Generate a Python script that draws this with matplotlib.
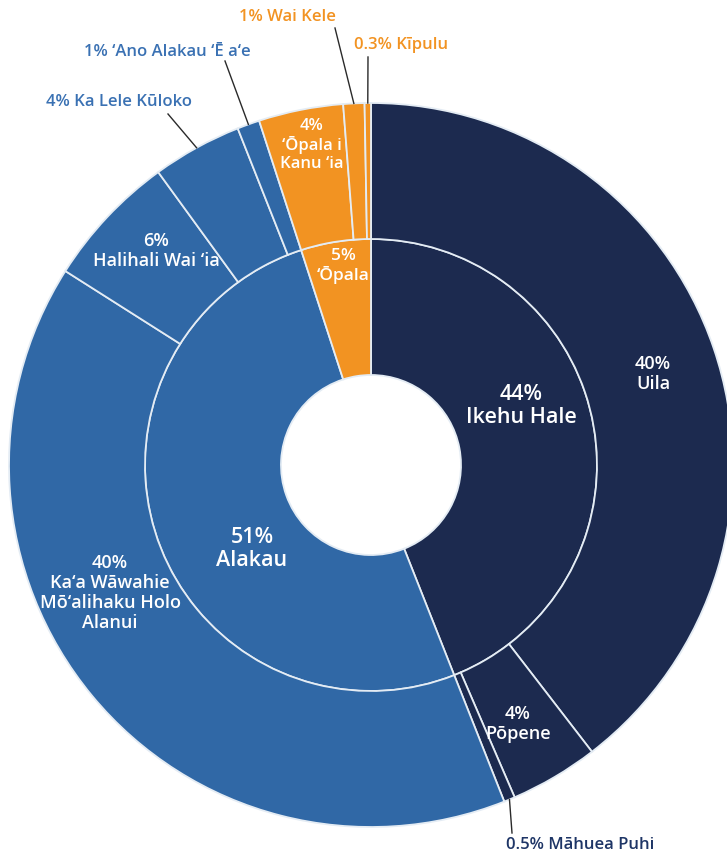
import numpy as np
import matplotlib.pyplot as plt

W, H = 727, 857

# inner ring
inner_names = ["Ikehu Hale", "Alakau", "‘Ōpala"]
inner_pct = [44, 51, 5]

# outer ring, grouped by parent
outer_names = ["Uila", "Pōpene", "Māhuea Puhi",
               "Ka‘a Wāwahie\nMō‘alihaku Holo\nAlanui", "Halihali Wai ‘ia", "Ka Lele Kūloko", "‘Ano Alakau ‘Ē a‘e",
               "‘Ōpala i\nKanu ‘ia", "Wai Kele", "Kīpulu"]
outer_pct = [40, 4, 0.5,
             40, 6, 4, 1,
             4, 1, 0.3]
outer_parent = [0, 0, 0, 1, 1, 1, 1, 2, 2, 2]

navy = "#1c2a4f"
blue = "#3068a6"
orange = "#f29322"
inner_colors = [navy, blue, orange]
edge = "#e4ecf4"

# scale children so they fill their parent's slice
outer_pct_a = np.array(outer_pct, dtype=float)
parent_a = np.array(outer_parent)
outer_sizes = outer_pct_a.copy()
for p, tot in enumerate(inner_pct):
    m = parent_a == p
    outer_sizes[m] = outer_pct_a[m] * tot / outer_pct_a[m].sum()
outer_colors = [inner_colors[p] for p in outer_parent]

cx, cy = 371, H - 465
r_hole, r_mid, r_out = 90, 226, 362

plt.rcParams['font.family'] = ['Open Sans', 'DejaVu Sans']

fig = plt.figure(figsize=(W / 100, H / 100), dpi=100)
ax = fig.add_axes([0, 0, 1, 1])

ax.pie(inner_pct, radius=r_mid, center=(cx, cy), startangle=90, counterclock=False,
       colors=inner_colors, wedgeprops=dict(width=r_mid - r_hole, edgecolor=edge, linewidth=1.3))
outer_w, _ = ax.pie(outer_sizes, radius=r_out, center=(cx, cy), startangle=90, counterclock=False,
                    colors=outer_colors, wedgeprops=dict(width=r_out - r_mid, edgecolor=edge, linewidth=1.3))

ax.set_xlim(0, W)
ax.set_ylim(0, H)
ax.set_aspect('equal')
ax.axis('off')


def lab(pct):
    return f"{pct:g}%"


def txt(x, y, s, size=13, color='white', ls=1.15):
    ax.text(x, H - y, s, ha='center', va='center', fontsize=size, color=color,
            fontweight='semibold', linespacing=ls)


# inner labels
inner_pos = [(521, 406), (252, 549), (343, 266)]
for k in range(3):
    size = 15.5 if k < 2 else 12.5
    txt(*inner_pos[k], f"{inner_pct[k]}%\n{inner_names[k]}", size=size)

# labels inside outer wedges
inside = {0: (653, 374), 1: (518, 724), 3: (110, 593), 4: (156, 251), 7: (312, 145)}
for k, pos in inside.items():
    size = 12 if k == 7 else 13
    txt(*pos, f"{lab(outer_pct[k])}\n{outer_names[k]}", size=size)

# labels outside with leader lines
outside = {
    8: ((287, 17), (335, 28), orange),
    9: ((401, 45), (368, 57), orange),
    6: ((167, 52), (225, 61), "#3a71b3"),
    5: ((119, 102), (168, 114), "#3a71b3"),
    2: ((580, 845), (512, 833), "#1e3566"),
}
for k, ((tx, ty), (lx, ly), col) in outside.items():
    w = outer_w[k]
    a = np.deg2rad((w.theta1 + w.theta2) / 2)
    ex, ey = cx + r_out * np.cos(a), cy + r_out * np.sin(a)
    ax.plot([lx, ex], [H - ly, ey], color='#2a2a2a', lw=1.0)
    txt(tx, ty, f"{lab(outer_pct[k])} {outer_names[k]}", size=12, color=col)

fig.savefig("out.png", dpi=100, facecolor='white')
